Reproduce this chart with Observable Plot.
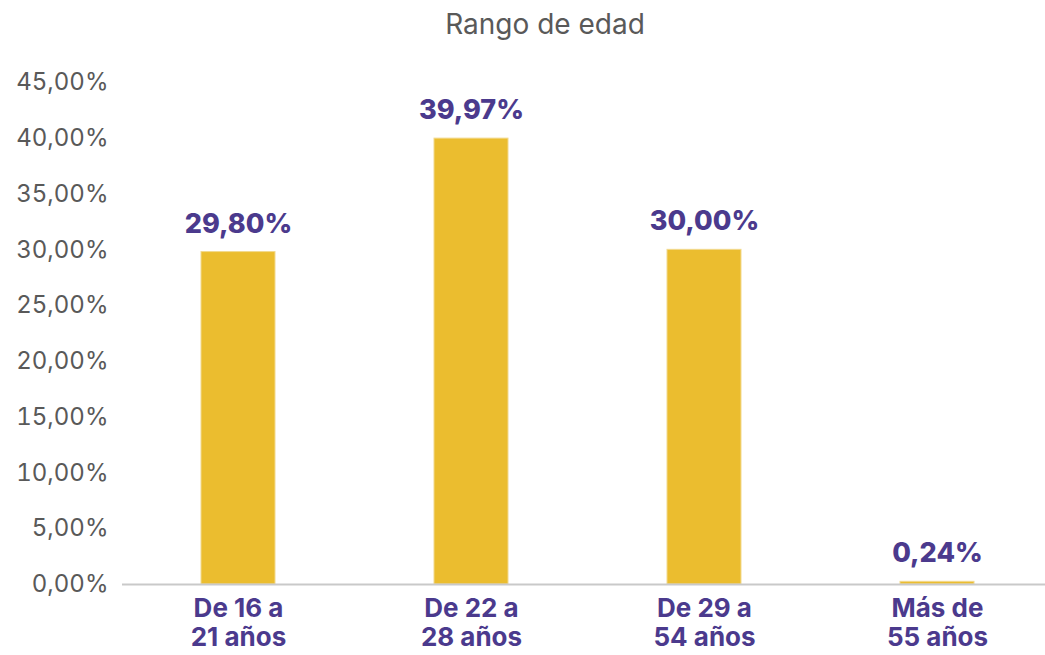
<!DOCTYPE html>
<html>
<head>
<meta charset="utf-8">
<script src="https://cdn.jsdelivr.net/npm/d3@7"></script>
<script src="https://cdn.jsdelivr.net/npm/@observablehq/plot@0.6"></script>
<style>
  body { margin: 0; background: #fff; font-family: Inter, "Noto Sans", sans-serif; }
  #wrap { position: relative; width: 1045px; height: 655px; }
  #title { position: absolute; top: 7px; left: 0; width: 1090px; text-align: center; font-size: 28px; color: #595959; }
  #chart { position: absolute; top: 0; left: 0; }
</style>
</head>
<body>
<div id="wrap">
  <div id="chart"></div>
  <div id="title">Rango de edad</div>
</div>
<script>
const categories = ["De 16 a\n21 años", "De 22 a\n28 años", "De 29 a\n54 años", "Más de\n55 años"];
const values = [29.80, 39.97, 30.00, 0.24];
const yTicks = [0, 5, 10, 15, 20, 25, 30, 35, 40, 45];

const data = categories.map((c, i) => ({category: c, value: values[i]}));
const fmt = v => v.toFixed(2).replace(".", ",") + "%";
const purple = "#4B3A8D";

const chart = Plot.plot({
  width: 1045,
  height: 655,
  marginLeft: 122,
  marginRight: 0,
  marginTop: 82,
  marginBottom: 71,
  style: {fontFamily: "Inter, 'Noto Sans', sans-serif", background: "#fff", overflow: "visible"},
  x: {domain: categories, range: [122, 1054], paddingInner: 0.682, paddingOuter: 0.341, align: 0.5},
  y: {domain: [0, 45], range: [584, 82]},
  marks: [
    Plot.barY(data, {x: "category", y: "value", fill: "#EBBD2F", stroke: "#F2D98E", strokeWidth: 1}),
    Plot.ruleY([0], {stroke: "#C9C9C9", strokeWidth: 2}),
    Plot.text(data, {x: "category", y: "value", text: d => fmt(d.value), dy: -28, fill: purple, fontWeight: 800, fontSize: 27}),
    Plot.axisY({ticks: yTicks, tickFormat: fmt, tickSize: 0, tickPadding: 14, fontSize: 24, fill: "#595959", label: null}),
    Plot.axisX({tickSize: 0, tickPadding: 12, fontSize: 26, fontWeight: 700, fill: purple, label: null, lineHeight: 1.12})
  ]
});
document.getElementById("chart").appendChild(chart);
</script>
</body>
</html>
